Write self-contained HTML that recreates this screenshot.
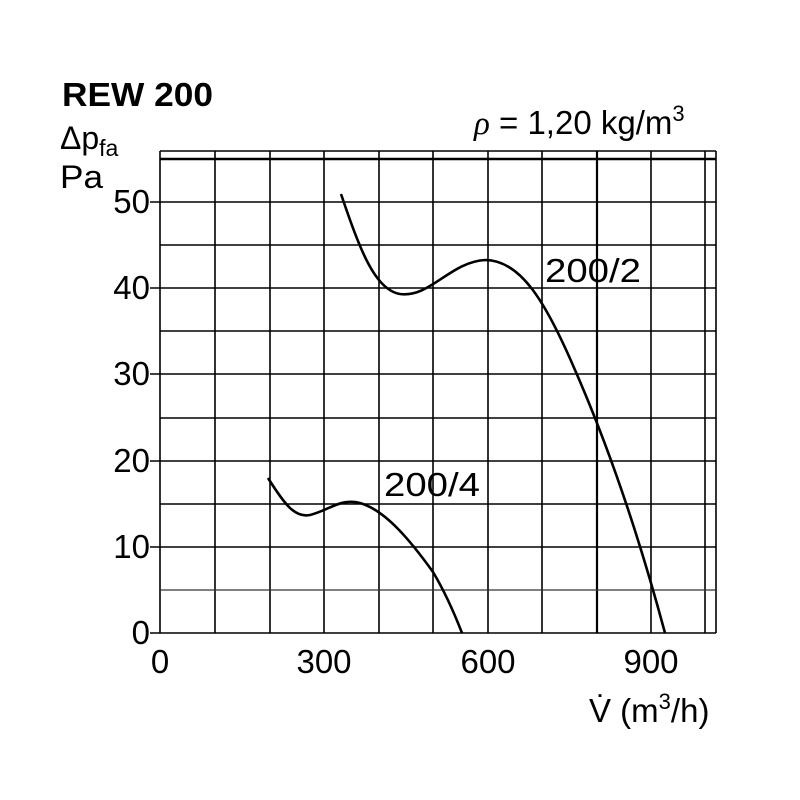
<!DOCTYPE html>
<html><head><meta charset="utf-8"><style>
html,body{margin:0;padding:0;background:#fff;}
svg{display:block;}
text{font-family:"Liberation Sans",sans-serif;fill:#000;}
</style></head><body>
<svg width="800" height="800" viewBox="0 0 800 800" xmlns="http://www.w3.org/2000/svg">
<g stroke="#000" fill="none">
<g stroke-width="1.6">
<line x1="160" y1="151" x2="160" y2="633"/>
<line x1="215" y1="151" x2="215" y2="633"/>
<line x1="270" y1="151" x2="270" y2="633"/>
<line x1="324" y1="151" x2="324" y2="633"/>
<line x1="379" y1="151" x2="379" y2="633"/>
<line x1="433" y1="151" x2="433" y2="633"/>
<line x1="488" y1="151" x2="488" y2="633"/>
<line x1="542" y1="151" x2="542" y2="633"/>
<line x1="651" y1="151" x2="651" y2="633"/>
<line x1="705" y1="151" x2="705" y2="633"/>
<line x1="716" y1="151" x2="716" y2="633"/>
</g>
<line x1="597" y1="151" x2="597" y2="633" stroke-width="2.2"/>
<g stroke-width="1.6">
<line x1="160" y1="151" x2="716" y2="151"/>
<line x1="160" y1="159" x2="716" y2="159" stroke-width="2.4"/>
<line x1="150" y1="202" x2="716" y2="202"/>
<line x1="160" y1="245" x2="716" y2="245"/>
<line x1="150" y1="288" x2="716" y2="288"/>
<line x1="160" y1="331" x2="716" y2="331"/>
<line x1="150" y1="374" x2="716" y2="374"/>
<line x1="160" y1="418" x2="716" y2="418"/>
<line x1="150" y1="461" x2="716" y2="461"/>
<line x1="160" y1="504" x2="716" y2="504"/>
<line x1="150" y1="547" x2="716" y2="547"/>
<line x1="150" y1="633" x2="716" y2="633"/>
</g>
<line x1="160" y1="590" x2="716" y2="590" stroke-width="1.2" stroke="#333"/>
<path d="M341,194 C360,250 375,290 400,294 C430,298 450,262 485,260 C520,260 545,300 575,370 C610,450 640,540 665,633" stroke-width="2.6"/>
<path d="M268,478 C285,505 295,518 310,515 C330,510 340,498 360,503 C385,510 410,540 433,572 C445,592 455,615 462,633" stroke-width="2.6"/>
</g>
<text x="62" y="106" font-size="33" font-weight="bold" textLength="151" lengthAdjust="spacingAndGlyphs">REW 200</text>
<text x="60" y="149" font-size="32">Δp<tspan font-size="23" dy="7">fa</tspan></text>
<text x="60" y="188" font-size="32" textLength="43" lengthAdjust="spacingAndGlyphs">Pa</text>
<text x="474" y="134" font-size="33"><tspan font-family="Liberation Serif" font-style="italic">ρ</tspan> = 1,20 kg/m<tspan font-size="22" dy="-13">3</tspan></text>
<g font-size="33" text-anchor="end">
<text x="150" y="213">50</text>
<text x="150" y="299">40</text>
<text x="150" y="385">30</text>
<text x="150" y="472">20</text>
<text x="150" y="558">10</text>
<text x="150" y="644">0</text>
</g>
<g font-size="33" text-anchor="middle">
<text x="160" y="673">0</text>
<text x="324" y="673">300</text>
<text x="488" y="673">600</text>
<text x="651" y="673">900</text>
</g>
<text x="589" y="722" font-size="33">V̇ (m<tspan font-size="22" dy="-13">3</tspan><tspan dy="13">/h)</tspan></text>
<text x="545" y="282" font-size="33" textLength="96" lengthAdjust="spacingAndGlyphs">200/2</text>
<text x="384" y="496" font-size="33" textLength="96" lengthAdjust="spacingAndGlyphs">200/4</text>
</svg>
</body></html>
